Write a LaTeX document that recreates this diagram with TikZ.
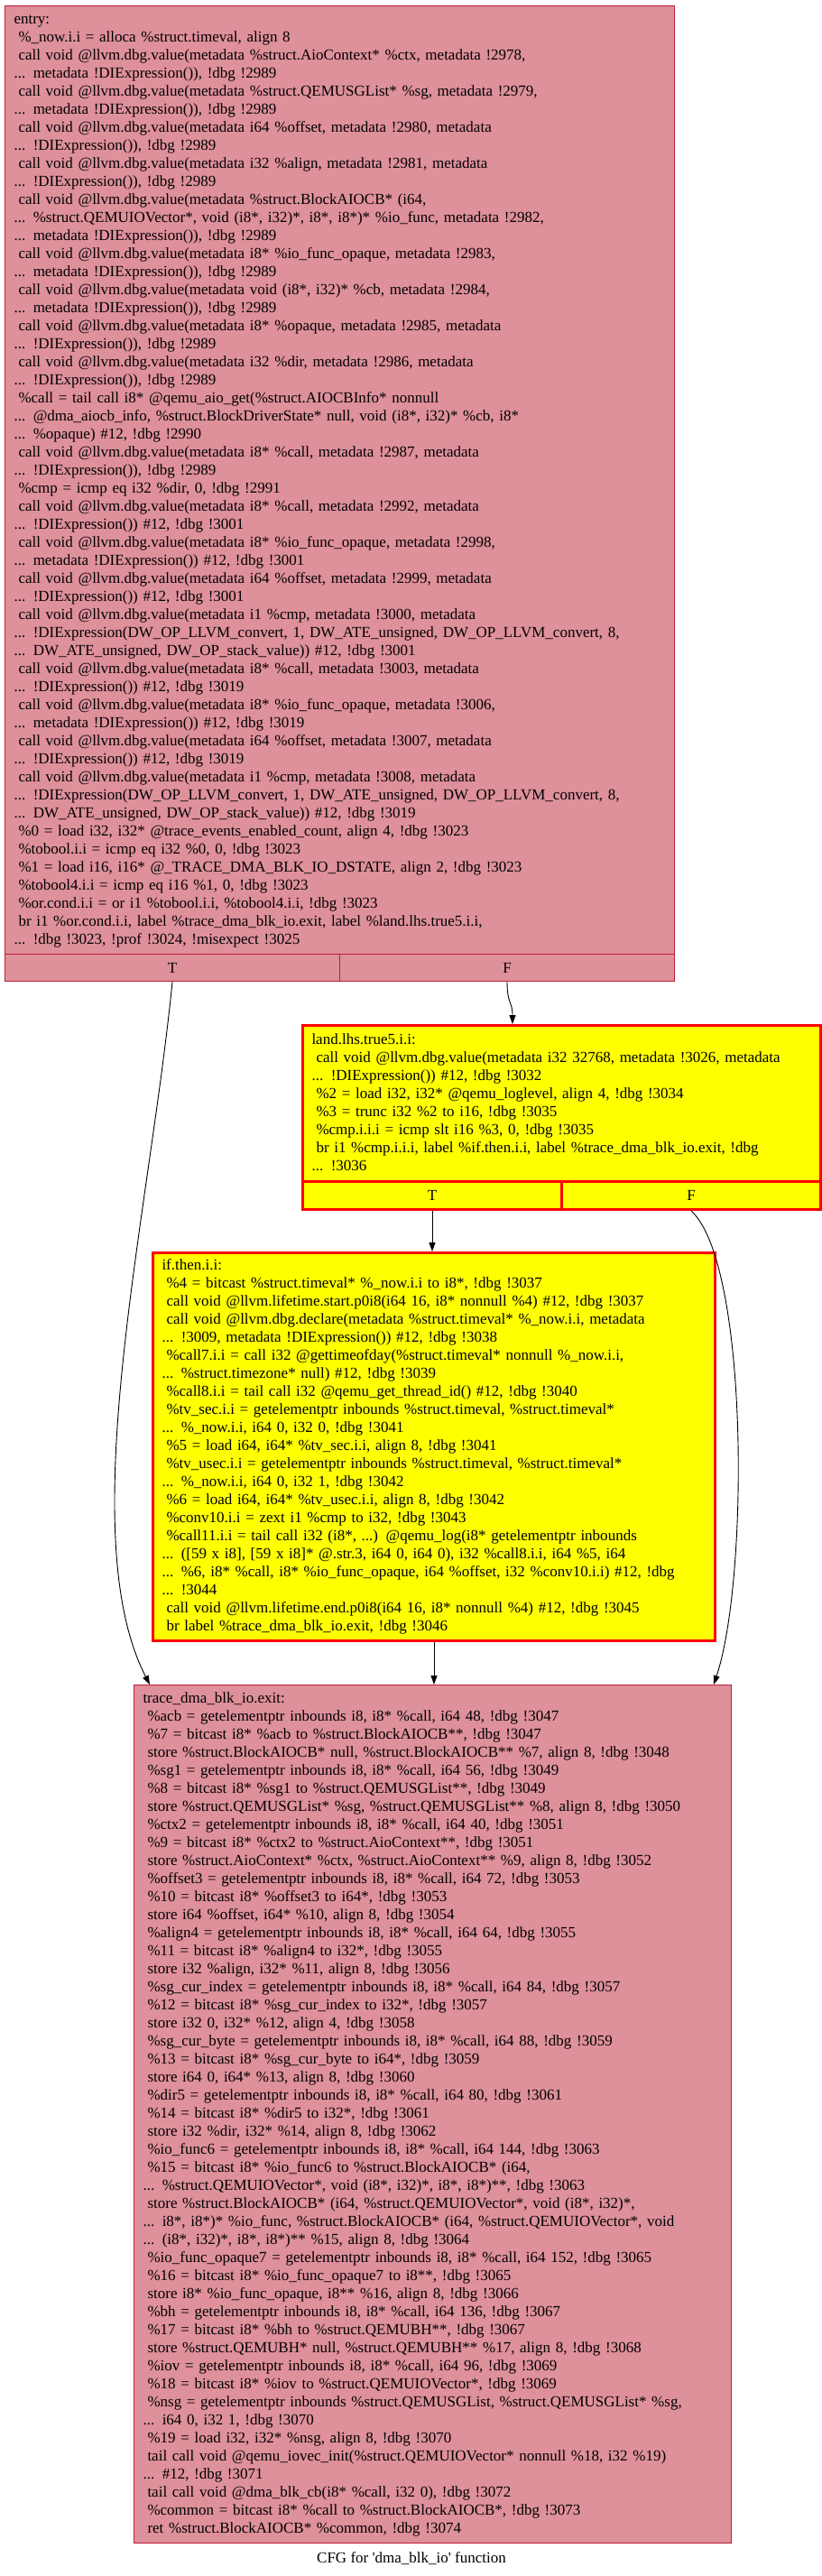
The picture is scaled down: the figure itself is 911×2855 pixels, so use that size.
\documentclass[tikz,border=0pt]{standalone}
\usepackage{fontspec}
\setmainfont{Liberation Serif}
\usepackage{tikz}
\usetikzlibrary{arrows.meta, calc}
\definecolor{blockpink}{RGB}{222,144,155}
\definecolor{blockedge}{RGB}{190,30,55}
\definecolor{hotyellow}{RGB}{255,255,0}
\definecolor{hotred}{RGB}{255,0,0}
\newcommand{\ind}{\hspace*{5bp}}
\newcommand{\cfgfont}{\fontsize{17bp}{20bp}\selectfont}
\tikzset{
  pinkblock/.style={rectangle, draw=blockedge, fill=blockpink, line width=1bp, anchor=north west,
    inner xsep=10bp, inner ysep=0pt, align=left, font=\cfgfont},
  yellowblock/.style={pinkblock, draw=hotred, fill=hotyellow, line width=3bp},
  pinkcell/.style={rectangle, draw=blockedge, fill=blockpink, line width=1bp, anchor=north west,
    inner sep=0pt, font=\cfgfont},
  yellowcell/.style={pinkcell, draw=hotred, fill=hotyellow, line width=3bp},
  flow/.style={-{Triangle[length=10bp,width=7bp]}, line width=0.9bp}
}

\begin{document}
\begin{tikzpicture}[x=1bp, y=-1bp]
\path[fill=white, use as bounding box] (0,0) rectangle (911,2855);

% entry block
\node[pinkblock, text width=722bp, minimum height=1051bp] (entry) at (5,6) {\begin{tabular}{@{}l@{}}
entry:\\
\ind\%\_now.i.i = alloca \%struct.timeval, align 8\\
\ind call void @llvm.dbg.value(metadata \%struct.AioContext* \%ctx, metadata !2978,\\
... metadata !DIExpression()), !dbg !2989\\
\ind call void @llvm.dbg.value(metadata \%struct.QEMUSGList* \%sg, metadata !2979,\\
... metadata !DIExpression()), !dbg !2989\\
\ind call void @llvm.dbg.value(metadata i64 \%offset, metadata !2980, metadata\\
... !DIExpression()), !dbg !2989\\
\ind call void @llvm.dbg.value(metadata i32 \%align, metadata !2981, metadata\\
... !DIExpression()), !dbg !2989\\
\ind call void @llvm.dbg.value(metadata \%struct.BlockAIOCB* (i64,\\
... \%struct.QEMUIOVector*, void (i8*, i32)*, i8*, i8*)* \%io\_func, metadata !2982,\\
... metadata !DIExpression()), !dbg !2989\\
\ind call void @llvm.dbg.value(metadata i8* \%io\_func\_opaque, metadata !2983,\\
... metadata !DIExpression()), !dbg !2989\\
\ind call void @llvm.dbg.value(metadata void (i8*, i32)* \%cb, metadata !2984,\\
... metadata !DIExpression()), !dbg !2989\\
\ind call void @llvm.dbg.value(metadata i8* \%opaque, metadata !2985, metadata\\
... !DIExpression()), !dbg !2989\\
\ind call void @llvm.dbg.value(metadata i32 \%dir, metadata !2986, metadata\\
... !DIExpression()), !dbg !2989\\
\ind\%call = tail call i8* @qemu\_aio\_get(\%struct.AIOCBInfo* nonnull\\
... @dma\_aiocb\_info, \%struct.BlockDriverState* null, void (i8*, i32)* \%cb, i8*\\
... \%opaque) \#12, !dbg !2990\\
\ind call void @llvm.dbg.value(metadata i8* \%call, metadata !2987, metadata\\
... !DIExpression()), !dbg !2989\\
\ind\%cmp = icmp eq i32 \%dir, 0, !dbg !2991\\
\ind call void @llvm.dbg.value(metadata i8* \%call, metadata !2992, metadata\\
... !DIExpression()) \#12, !dbg !3001\\
\ind call void @llvm.dbg.value(metadata i8* \%io\_func\_opaque, metadata !2998,\\
... metadata !DIExpression()) \#12, !dbg !3001\\
\ind call void @llvm.dbg.value(metadata i64 \%offset, metadata !2999, metadata\\
... !DIExpression()) \#12, !dbg !3001\\
\ind call void @llvm.dbg.value(metadata i1 \%cmp, metadata !3000, metadata\\
... !DIExpression(DW\_OP\_LLVM\_convert, 1, DW\_ATE\_unsigned, DW\_OP\_LLVM\_convert, 8,\\
... DW\_ATE\_unsigned, DW\_OP\_stack\_value)) \#12, !dbg !3001\\
\ind call void @llvm.dbg.value(metadata i8* \%call, metadata !3003, metadata\\
... !DIExpression()) \#12, !dbg !3019\\
\ind call void @llvm.dbg.value(metadata i8* \%io\_func\_opaque, metadata !3006,\\
... metadata !DIExpression()) \#12, !dbg !3019\\
\ind call void @llvm.dbg.value(metadata i64 \%offset, metadata !3007, metadata\\
... !DIExpression()) \#12, !dbg !3019\\
\ind call void @llvm.dbg.value(metadata i1 \%cmp, metadata !3008, metadata\\
... !DIExpression(DW\_OP\_LLVM\_convert, 1, DW\_ATE\_unsigned, DW\_OP\_LLVM\_convert, 8,\\
... DW\_ATE\_unsigned, DW\_OP\_stack\_value)) \#12, !dbg !3019\\
\ind\%0 = load i32, i32* @trace\_events\_enabled\_count, align 4, !dbg !3023\\
\ind\%tobool.i.i = icmp eq i32 \%0, 0, !dbg !3023\\
\ind\%1 = load i16, i16* @\_TRACE\_DMA\_BLK\_IO\_DSTATE, align 2, !dbg !3023\\
\ind\%tobool4.i.i = icmp eq i16 \%1, 0, !dbg !3023\\
\ind\%or.cond.i.i = or i1 \%tobool.i.i, \%tobool4.i.i, !dbg !3023\\
\ind br i1 \%or.cond.i.i, label \%trace\_dma\_blk\_io.exit, label \%land.lhs.true5.i.i,\\
... !dbg !3023, !prof !3024, !misexpect !3025
\end{tabular}};
\node[pinkcell, minimum width=371bp, minimum height=30bp] (entryT) at (5,1057) {T};
\node[pinkcell, minimum width=371bp, minimum height=30bp] (entryF) at (376,1057) {F};

% land.lhs.true5 block
\node[yellowblock, text width=554bp, minimum height=173bp] (land) at (334,1135) {\begin{tabular}{@{}l@{}}
land.lhs.true5.i.i:\\
\ind call void @llvm.dbg.value(metadata i32 32768, metadata !3026, metadata\\
... !DIExpression()) \#12, !dbg !3032\\
\ind\%2 = load i32, i32* @qemu\_loglevel, align 4, !dbg !3034\\
\ind\%3 = trunc i32 \%2 to i16, !dbg !3035\\
\ind\%cmp.i.i.i = icmp slt i16 \%3, 0, !dbg !3035\\
\ind br i1 \%cmp.i.i.i, label \%if.then.i.i, label \%trace\_dma\_blk\_io.exit, !dbg\\
... !3036
\end{tabular}};
\node[yellowcell, minimum width=287bp, minimum height=31bp] (landT) at (334,1308) {T};
\node[yellowcell, minimum width=287bp, minimum height=31bp] (landF) at (621,1308) {F};

% if.then block
\node[yellowblock, text width=603bp, minimum height=430bp] (ifthen) at (168,1387) {\begin{tabular}{@{}l@{}}
if.then.i.i:\\
\ind\%4 = bitcast \%struct.timeval* \%\_now.i.i to i8*, !dbg !3037\\
\ind call void @llvm.lifetime.start.p0i8(i64 16, i8* nonnull \%4) \#12, !dbg !3037\\
\ind call void @llvm.dbg.declare(metadata \%struct.timeval* \%\_now.i.i, metadata\\
... !3009, metadata !DIExpression()) \#12, !dbg !3038\\
\ind\%call7.i.i = call i32 @gettimeofday(\%struct.timeval* nonnull \%\_now.i.i,\\
... \%struct.timezone* null) \#12, !dbg !3039\\
\ind\%call8.i.i = tail call i32 @qemu\_get\_thread\_id() \#12, !dbg !3040\\
\ind\%tv\_sec.i.i = getelementptr inbounds \%struct.timeval, \%struct.timeval*\\
... \%\_now.i.i, i64 0, i32 0, !dbg !3041\\
\ind\%5 = load i64, i64* \%tv\_sec.i.i, align 8, !dbg !3041\\
\ind\%tv\_usec.i.i = getelementptr inbounds \%struct.timeval, \%struct.timeval*\\
... \%\_now.i.i, i64 0, i32 1, !dbg !3042\\
\ind\%6 = load i64, i64* \%tv\_usec.i.i, align 8, !dbg !3042\\
\ind\%conv10.i.i = zext i1 \%cmp to i32, !dbg !3043\\
\ind\%call11.i.i = tail call i32 (i8*, ...) @qemu\_log(i8* getelementptr inbounds\\
... ([59 x i8], [59 x i8]* @.str.3, i64 0, i64 0), i32 \%call8.i.i, i64 \%5, i64\\
... \%6, i8* \%call, i8* \%io\_func\_opaque, i64 \%offset, i32 \%conv10.i.i) \#12, !dbg\\
... !3044\\
\ind call void @llvm.lifetime.end.p0i8(i64 16, i8* nonnull \%4) \#12, !dbg !3045\\
\ind br label \%trace\_dma\_blk\_io.exit, !dbg !3046
\end{tabular}};

% exit block
\node[pinkblock, text width=642bp, minimum height=951bp] (trace) at (148,1867) {\begin{tabular}{@{}l@{}}
trace\_dma\_blk\_io.exit:\\
\ind\%acb = getelementptr inbounds i8, i8* \%call, i64 48, !dbg !3047\\
\ind\%7 = bitcast i8* \%acb to \%struct.BlockAIOCB**, !dbg !3047\\
\ind store \%struct.BlockAIOCB* null, \%struct.BlockAIOCB** \%7, align 8, !dbg !3048\\
\ind\%sg1 = getelementptr inbounds i8, i8* \%call, i64 56, !dbg !3049\\
\ind\%8 = bitcast i8* \%sg1 to \%struct.QEMUSGList**, !dbg !3049\\
\ind store \%struct.QEMUSGList* \%sg, \%struct.QEMUSGList** \%8, align 8, !dbg !3050\\
\ind\%ctx2 = getelementptr inbounds i8, i8* \%call, i64 40, !dbg !3051\\
\ind\%9 = bitcast i8* \%ctx2 to \%struct.AioContext**, !dbg !3051\\
\ind store \%struct.AioContext* \%ctx, \%struct.AioContext** \%9, align 8, !dbg !3052\\
\ind\%offset3 = getelementptr inbounds i8, i8* \%call, i64 72, !dbg !3053\\
\ind\%10 = bitcast i8* \%offset3 to i64*, !dbg !3053\\
\ind store i64 \%offset, i64* \%10, align 8, !dbg !3054\\
\ind\%align4 = getelementptr inbounds i8, i8* \%call, i64 64, !dbg !3055\\
\ind\%11 = bitcast i8* \%align4 to i32*, !dbg !3055\\
\ind store i32 \%align, i32* \%11, align 8, !dbg !3056\\
\ind\%sg\_cur\_index = getelementptr inbounds i8, i8* \%call, i64 84, !dbg !3057\\
\ind\%12 = bitcast i8* \%sg\_cur\_index to i32*, !dbg !3057\\
\ind store i32 0, i32* \%12, align 4, !dbg !3058\\
\ind\%sg\_cur\_byte = getelementptr inbounds i8, i8* \%call, i64 88, !dbg !3059\\
\ind\%13 = bitcast i8* \%sg\_cur\_byte to i64*, !dbg !3059\\
\ind store i64 0, i64* \%13, align 8, !dbg !3060\\
\ind\%dir5 = getelementptr inbounds i8, i8* \%call, i64 80, !dbg !3061\\
\ind\%14 = bitcast i8* \%dir5 to i32*, !dbg !3061\\
\ind store i32 \%dir, i32* \%14, align 8, !dbg !3062\\
\ind\%io\_func6 = getelementptr inbounds i8, i8* \%call, i64 144, !dbg !3063\\
\ind\%15 = bitcast i8* \%io\_func6 to \%struct.BlockAIOCB* (i64,\\
... \%struct.QEMUIOVector*, void (i8*, i32)*, i8*, i8*)**, !dbg !3063\\
\ind store \%struct.BlockAIOCB* (i64, \%struct.QEMUIOVector*, void (i8*, i32)*,\\
... i8*, i8*)* \%io\_func, \%struct.BlockAIOCB* (i64, \%struct.QEMUIOVector*, void\\
... (i8*, i32)*, i8*, i8*)** \%15, align 8, !dbg !3064\\
\ind\%io\_func\_opaque7 = getelementptr inbounds i8, i8* \%call, i64 152, !dbg !3065\\
\ind\%16 = bitcast i8* \%io\_func\_opaque7 to i8**, !dbg !3065\\
\ind store i8* \%io\_func\_opaque, i8** \%16, align 8, !dbg !3066\\
\ind\%bh = getelementptr inbounds i8, i8* \%call, i64 136, !dbg !3067\\
\ind\%17 = bitcast i8* \%bh to \%struct.QEMUBH**, !dbg !3067\\
\ind store \%struct.QEMUBH* null, \%struct.QEMUBH** \%17, align 8, !dbg !3068\\
\ind\%iov = getelementptr inbounds i8, i8* \%call, i64 96, !dbg !3069\\
\ind\%18 = bitcast i8* \%iov to \%struct.QEMUIOVector*, !dbg !3069\\
\ind\%nsg = getelementptr inbounds \%struct.QEMUSGList, \%struct.QEMUSGList* \%sg,\\
... i64 0, i32 1, !dbg !3070\\
\ind\%19 = load i32, i32* \%nsg, align 8, !dbg !3070\\
\ind tail call void @qemu\_iovec\_init(\%struct.QEMUIOVector* nonnull \%18, i32 \%19)\\
... \#12, !dbg !3071\\
\ind tail call void @dma\_blk\_cb(i8* \%call, i32 0), !dbg !3072\\
\ind\%common = bitcast i8* \%call to \%struct.BlockAIOCB*, !dbg !3073\\
\ind ret \%struct.BlockAIOCB* \%common, !dbg !3074
\end{tabular}};

\node[font=\cfgfont] (caption) at (456,2836) {CFG for \textquotesingle dma\_blk\_io\textquotesingle{} function};

% edges
\draw[flow] (entryT.south) .. controls (165,1350) and (80,1700) .. ([xshift=18bp]trace.north west);
\draw[flow] (entryF.south) .. controls +(0,25) and +(0,-25) .. ([xshift=234bp]land.north west);
\draw[flow] (landT.south) -- (landT.south |- ifthen.north);
\draw[flow] (landF.south) .. controls (830,1400) and (830,1750) .. ([xshift=-20bp]trace.north east);
\draw[flow] (ifthen.south) -- (ifthen.south |- trace.north);
\end{tikzpicture}
\end{document}
